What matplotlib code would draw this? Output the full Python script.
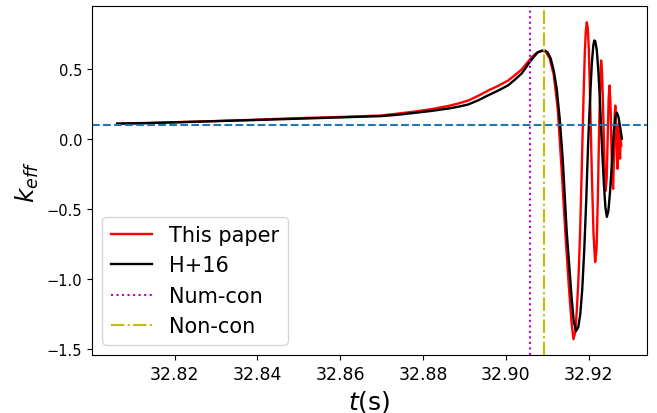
import numpy as np
import matplotlib
matplotlib.use("Agg")
import matplotlib.pyplot as plt

# "This paper" curve
t_paper = [32.80611, 32.82623, 32.83835, 32.85047, 32.86017, 32.86987, 32.87787,
           32.88199, 32.88604, 32.88846, 32.89089, 32.89331, 32.89574, 32.89816,
           32.90058, 32.90218, 32.90381, 32.90485, 32.90582, 32.90672, 32.90744,
           32.90866, 32.90963, 32.91060, 32.91157, 32.91254, 32.91350, 32.91447,
           32.91532, 32.91593, 32.91634, 32.91678, 32.91714, 32.91755, 32.91794,
           32.91835, 32.91877, 32.91908, 32.91932, 32.91957, 32.91981, 32.92005,
           32.92037, 32.92078, 32.92119, 32.92158, 32.92192, 32.92223, 32.92255,
           32.92284, 32.92303, 32.92327, 32.92357, 32.92386, 32.92412, 32.92437,
           32.92461, 32.92485, 32.92507, 32.92529, 32.92553, 32.92577, 32.92594,
           32.92616, 32.92633, 32.92645, 32.92662, 32.92684, 32.92701, 32.92715,
           32.92730, 32.92744, 32.92761, 32.92776, 32.92788]
k_paper = [0.112, 0.127, 0.139, 0.152, 0.160, 0.170, 0.198,
           0.216, 0.238, 0.256, 0.277, 0.311, 0.349, 0.383,
           0.421, 0.459, 0.500, 0.537, 0.572, 0.600, 0.619,
           0.634, 0.629, 0.579, 0.464, 0.220, -0.226, -0.714,
           -1.095, -1.325, -1.432, -1.382, -1.231, -1.001, -0.678,
           -0.211, 0.292, 0.615, 0.773, 0.838, 0.795, 0.651,
           0.292, -0.247, -0.678, -0.879, -0.786, -0.427, 0.076,
           0.435, 0.565, 0.471, 0.148, -0.211, -0.369, -0.283,
           0.005, 0.292, 0.385, 0.256, -0.068, -0.319, -0.355,
           -0.068, 0.184, 0.241, 0.112, -0.139, -0.211, 0.005,
           0.112, -0.068, -0.139, 0.019, -0.046]

# H+16 curve
t_h16 = [32.80611, 32.81411, 32.82623, 32.83835, 32.85047, 32.86017, 32.86987,
         32.87399, 32.87787, 32.88199, 32.88604, 32.88846, 32.89089, 32.89331,
         32.89574, 32.89816, 32.90058, 32.90218, 32.90381, 32.90485, 32.90582,
         32.90672, 32.90769, 32.90866, 32.90938, 32.91011, 32.91084, 32.91157,
         32.91229, 32.91302, 32.91375, 32.91472, 32.91593, 32.91641, 32.91697,
         32.91750, 32.91799, 32.91847, 32.91896, 32.91944, 32.91993, 32.92041,
         32.92078, 32.92114, 32.92138, 32.92163, 32.92199, 32.92235, 32.92272,
         32.92320, 32.92369, 32.92405, 32.92441, 32.92478, 32.92514, 32.92563,
         32.92611, 32.92647, 32.92684, 32.92720, 32.92757, 32.92805]
k_h16 = [0.112, 0.116, 0.127, 0.137, 0.148, 0.157, 0.166,
         0.176, 0.189, 0.203, 0.220, 0.233, 0.249, 0.279,
         0.315, 0.349, 0.387, 0.427, 0.471, 0.513, 0.555,
         0.589, 0.622, 0.634, 0.637, 0.622, 0.579, 0.493,
         0.364, 0.148, -0.139, -0.666, -1.145, -1.303, -1.373,
         -1.346, -1.253, -1.073, -0.786, -0.427, 0.005, 0.328,
         0.543, 0.672, 0.708, 0.701, 0.637, 0.493, 0.292,
         -0.032, -0.319, -0.484, -0.556, -0.513, -0.391, -0.175,
         0.062, 0.162, 0.191, 0.162, 0.098, 0.005]

k_ref = 0.1          # horizontal dashed line
t_numcon = 32.9058   # Num-con
t_noncon = 32.9092   # Non-con

fig, ax = plt.subplots(figsize=(6.57, 4.14), dpi=100)
fig.subplots_adjust(left=0.140, right=0.985, top=0.982, bottom=0.140)

ax.plot(t_paper, k_paper, '-', color='r', linewidth=1.7, label='This paper')
ax.plot(t_h16, k_h16, '-', color='k', linewidth=1.7, label='H+16')
ax.axhline(y=k_ref, color='tab:blue', linestyle='--', linewidth=1.5)
ax.axvline(x=t_numcon, color='m', linestyle=':', linewidth=1.5, label='Num-con')
ax.axvline(x=t_noncon, color='y', linestyle='-.', linewidth=1.5, label='Non-con')

ax.set_xticks([32.82, 32.84, 32.86, 32.88, 32.90, 32.92])
ax.tick_params(axis='x', labelsize=12.5)
ax.tick_params(axis='y', labelsize=10.5)
ax.set_xlabel('$t$(s)', fontsize=18)
ax.set_ylabel('$k_{eff}$', fontsize=18)
ax.legend(loc='lower left', fontsize=15)

fig.savefig('out.png', dpi=100)
